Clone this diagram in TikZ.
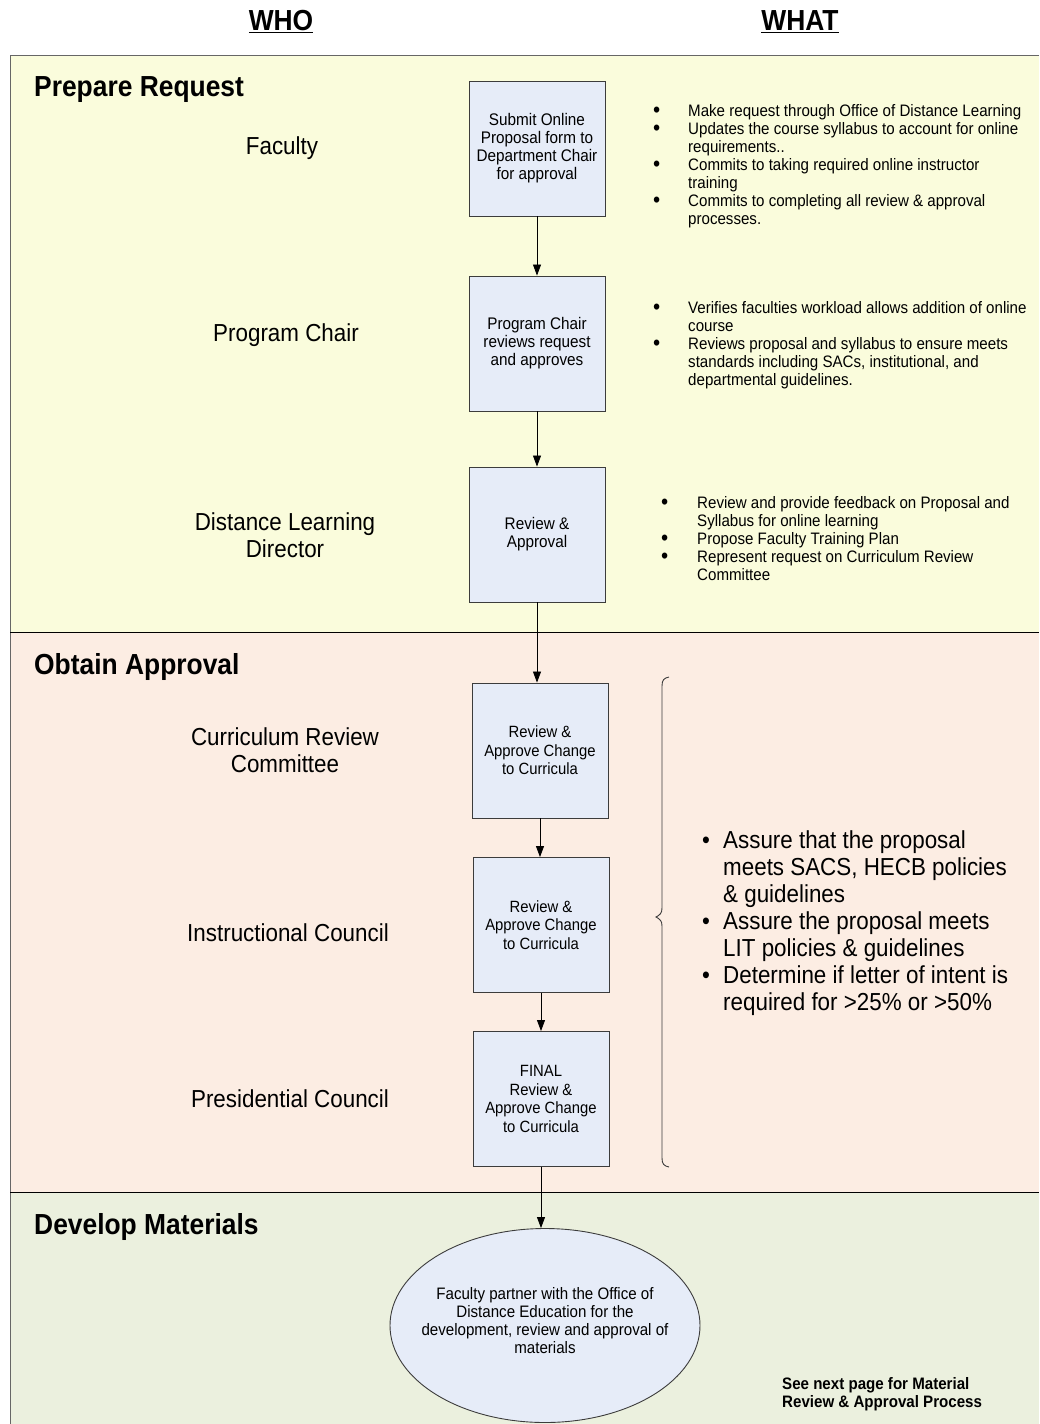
\documentclass[tikz,border=0pt]{standalone}
\usepackage{fontspec}
\usepackage{graphicx}
\setmainfont{Liberation Sans}[FakeStretch=0.91]
\usetikzlibrary{arrows.meta,shapes.geometric}
\definecolor{yelband}{RGB}{250,252,220}
\definecolor{pnkband}{RGB}{252,237,227}
\definecolor{grnband}{RGB}{235,240,222}
\definecolor{boxfill}{RGB}{230,236,248}
\definecolor{boxline}{RGB}{60,60,60}
\newcommand{\bigbul}{\smash{\raisebox{-1.9pt}{\scalebox{1.35}{•}}}}
\begin{document}
\begin{tikzpicture}[x=1pt,y=-1pt,
  procbox/.style={draw=boxline, fill=boxfill, line width=0.9pt, minimum width=136pt, minimum height=135pt, inner sep=2pt, align=center, font=\fontsize{16.8}{18}\selectfont},
  smallbox/.style={procbox, font=\fontsize{16.3}{18.5}\selectfont},
  who/.style={align=center, font=\fontsize{24.6}{27}\selectfont},
  section/.style={anchor=west, inner sep=0pt, font=\fontsize{29}{32}\selectfont\bfseries},
  header/.style={font=\fontsize{29}{32}\selectfont\bfseries},
  arr/.style={-{Triangle[length=11pt,width=8pt]}, line width=0.8pt, black},
  bulletlist/.style={anchor=base west, inner sep=0pt, font=\fontsize{16.6}{18}\selectfont},
  biglist/.style={anchor=base west, inner sep=0pt, font=\fontsize{24.6}{27}\selectfont},
  bandline/.style={line width=1pt, black}
]
\useasboundingbox (0,0) rectangle (1039,1424);
% bands
\fill[yelband] (10,55) rectangle (1039,632);
\fill[pnkband] (10,632) rectangle (1039,1192);
\fill[grnband] (10,1192) rectangle (1039,1424);
\draw[line width=1pt, black!60] (1039,55) -- (10,55) -- (10,1424);
\draw[bandline] (10,632) -- (1039,632);
\draw[bandline] (10,1192) -- (1039,1192);

% headers
\node[header] (who) at (281,22) {\underline{WHO}};
\node[header] (what) at (800,22) {\underline{WHAT}};

% section titles
\node[section] (s1) at (34,90) {Prepare Request};
\node[section] (s2) at (34,667) {Obtain Approval};
\node[section] (s3) at (34,1227) {Develop Materials};

% who labels
\node[who] (w1) at (282,148) {Faculty};
\node[who] (w2) at (286,335) {Program Chair};
\node[who] (w3) at (285,535) {Distance Learning\\Director};
\node[who] (w4) at (285,750) {Curriculum Review\\Committee};
\node[who] (w5) at (288,933) {Instructional Council};
\node[who] (w6) at (290,1099) {Presidential Council};

% process boxes
\node[procbox] (b1) at (537,148.5) {Submit Online\\Proposal form to\\Department Chair\\for approval};
\node[procbox] (b2) at (537,343.5) {Program Chair\\reviews request\\and approves};
\node[procbox] (b3) at (537,534.5) {Review \&\\Approval};
\node[smallbox] (b4) at (540,750.5) {Review \&\\Approve Change\\to Curricula};
\node[smallbox] (b5) at (541,925) {Review \&\\Approve Change\\to Curricula};
\node[smallbox] (b6) at (541,1099) {FINAL\\Review \&\\Approve Change\\to Curricula};
\node[ellipse, draw=boxline, fill=boxfill, line width=0.9pt, minimum width=310pt, minimum height=194pt, inner sep=0pt,
  label={[name=elt, yshift=5pt, align=center, font=\fontsize{16.6}{18}\selectfont]center:{Faculty partner with the Office of\\Distance Education for the\\development, review and approval of\\materials}}] (el) at (545,1325.5) {};

% connectors
\draw[arr] (b1) -- (b2);
\draw[arr] (b2) -- (b3);
\draw[arr] (b3.south) -- (b3.south |- b4.north);
\draw[arr] (b4.south) -- (b4.south |- b5.north);
\draw[arr] (b5.south) -- (b5.south |- b6.north);
\draw[arr] (b6.south) -- (b6.south |- el.north);

% bullet lists
\node[bulletlist] (l1) at (653,116) {\begin{tabular}[t]{@{}p{35pt}@{}l@{}}
\bigbul& Make request through Office of Distance Learning\\
\bigbul& Updates the course syllabus to account for online\\
 & requirements..\\
\bigbul& Commits to taking required online instructor\\
 & training\\
\bigbul& Commits to completing all review \& approval\\
 & processes.
\end{tabular}};
\node[bulletlist] (l2) at (653,313) {\begin{tabular}[t]{@{}p{35pt}@{}l@{}}
\bigbul& Verifies faculties workload allows addition of online\\
 & course\\
\bigbul& Reviews proposal and syllabus to ensure meets\\
 & standards including SACs, institutional, and\\
 & departmental guidelines.
\end{tabular}};
\node[bulletlist] (l3) at (661,508) {\begin{tabular}[t]{@{}p{36pt}@{}l@{}}
\bigbul& Review and provide feedback on Proposal and\\
 & Syllabus for online learning\\
\bigbul& Propose Faculty Training Plan\\
\bigbul& Represent request on Curriculum Review\\
 & Committee
\end{tabular}};
\node[biglist] (l4) at (702,848) {\begin{tabular}[t]{@{}p{21pt}@{}l@{}}
•& Assure that the proposal\\
 & meets SACS, HECB policies\\
 & \& guidelines\\
•& Assure the proposal meets\\
 & LIT policies \& guidelines\\
•& Determine if letter of intent is\\
 & required for >25\% or >50\%
\end{tabular}};

% brace
\draw[line width=0.9pt, boxline] (669,677) .. controls (664,678) and (662,680) .. (662,686)
  -- (662,908) .. controls (662,913) and (660,915) .. (656,917)
  .. controls (660,919) and (662,921) .. (662,926)
  -- (662,1158) .. controls (662,1164) and (664,1166) .. (669,1167);

% note
\node[anchor=north west, inner sep=0pt, align=left, font=\fontsize{16.6}{18}\selectfont\bfseries] (note) at (782,1377)
  {See next page for Material\\Review \& Approval Process};
\end{tikzpicture}
\end{document}
